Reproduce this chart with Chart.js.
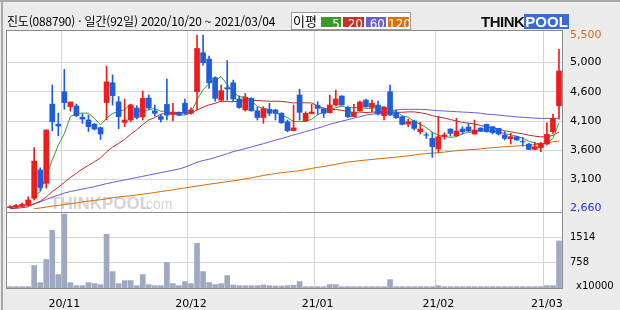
<!DOCTYPE html>
<html lang="ko">
<head>
<meta charset="UTF-8">
<title>진도 일간 차트</title>
<style>
  html, body { margin: 0; padding: 0; background: #ececec; }
  #wrap { position: relative; width: 620px; height: 310px; overflow: hidden; }
  #myChart { position: absolute; left: 0; top: 0; }
  #title {
    position: absolute; left: 7px; top: 12px;
    font: 12px "Noto Sans CJK KR", sans-serif; color: #000; white-space: nowrap;
    letter-spacing: -0.2px;
  }
  #maLegend {
    position: absolute; left: 291px; top: 12px; width: 118px; height: 16px;
    background: #fff; border: 1px solid #9a9a9a;
    font: 13px "Noto Sans CJK KR", sans-serif;
  }
  #maLegend .lbl { position: absolute; left: 1px; top: -2px; }
  #maLegend .box {
    position: absolute; top: 4px; height: 10px; line-height: 10px;
    color: #fff; text-align: right; font: 12px "DejaVu Sans", sans-serif; padding-right: 1px;
    box-sizing: border-box;
  }
  #logo { position: absolute; left: 481px; top: 13px; height: 16px; white-space: nowrap; }
  #logo .think { font: bold 15px "Liberation Sans", sans-serif; color: #111; letter-spacing: -0.5px; }
  #logo .pool {
    display: inline-block; background: #3a6ad6; color: #fff;
    font: bold 15px "Liberation Sans", sans-serif; padding: 0 1px; line-height: 15px;
  }
</style>
</head>
<body>
<div id="wrap">
  <canvas id="myChart" width="620" height="310"></canvas>
  <div id="title">진도(088790) · 일간(92일) 2020/10/20 ~ 2021/03/04</div>
  <div id="maLegend">
    <span class="lbl">이평</span>
    <span class="box" style="left:29px;width:20px;background:#3c9a2a">5</span>
    <span class="box" style="left:51px;width:21px;background:#c8302a">20</span>
    <span class="box" style="left:74px;width:20px;background:#6a5ed8">60</span>
    <span class="box" style="left:96px;width:21px;background:#dc7000">120</span>
  </div>
  <div id="logo"><span class="think">THINK</span><span class="pool">POOL</span></div>
</div>
<script src="https://cdn.jsdelivr.net/npm/chart.js@4.4.0/dist/chart.umd.min.js"></script>
<script>
// trading days 2020/10/20 ~ 2021/03/04 (92)
const days = [
  '2020/10/20','2020/10/21','2020/10/22','2020/10/23','2020/10/26','2020/10/27','2020/10/28','2020/10/29','2020/10/30',
  '2020/11/02','2020/11/03','2020/11/04','2020/11/05','2020/11/06','2020/11/09','2020/11/10','2020/11/11','2020/11/12','2020/11/13',
  '2020/11/16','2020/11/17','2020/11/18','2020/11/19','2020/11/20','2020/11/23','2020/11/24','2020/11/25','2020/11/26','2020/11/27','2020/11/30',
  '2020/12/01','2020/12/02','2020/12/03','2020/12/04','2020/12/07','2020/12/08','2020/12/09','2020/12/10','2020/12/11',
  '2020/12/14','2020/12/15','2020/12/16','2020/12/17','2020/12/18','2020/12/21','2020/12/22','2020/12/23','2020/12/24',
  '2020/12/28','2020/12/29','2020/12/30',
  '2021/01/04','2021/01/05','2021/01/06','2021/01/07','2021/01/08','2021/01/11','2021/01/12','2021/01/13','2021/01/14','2021/01/15',
  '2021/01/18','2021/01/19','2021/01/20','2021/01/21','2021/01/22','2021/01/25','2021/01/26','2021/01/27','2021/01/28','2021/01/29',
  '2021/02/01','2021/02/02','2021/02/03','2021/02/04','2021/02/05','2021/02/08','2021/02/09','2021/02/10',
  '2021/02/15','2021/02/16','2021/02/17','2021/02/18','2021/02/19','2021/02/22','2021/02/23','2021/02/24','2021/02/25','2021/02/26',
  '2021/03/02','2021/03/03','2021/03/04'
];

const opens = [
  2665,2670,2690,2710,2820,3285,3065,4365,4035,4570,
  4325,4335,4150,4105,4035,3980,4390,4715,4405,4065,
  4105,4300,4155,4465,4255,4160,4360,4195,4225,4380,
  4215,4570,5210,5105,4800,4430,4635,4715,4450,4270,
  4460,4255,4145,4280,4270,4215,4075,3930,4515,4090,
  4210,4345,4290,4225,4350,4498,4312,4160,4257,4432,
  4312,4350,4175,4569,4225,4159,4038,4088,3913,3862,
  3803,3628,3830,3956,3847,3956,3989,3874,3973,4033,
  3995,3967,3858,3798,3830,3752,3710,3622,3650,3710,
  3913,4339
];
const highs = [
  2700,2720,2745,2845,3650,3320,3945,4680,4215,4935,
  4400,4365,4205,4185,4050,3990,4990,4845,4490,4450,
  4360,4340,4580,4515,4350,4195,4775,4380,4240,4450,
  4305,5500,5500,5155,4815,4680,5080,4760,4500,4540,
  4470,4312,4325,4380,4280,4225,4105,4350,4610,4240,
  4361,4405,4305,4515,4595,4505,4334,4361,4415,4449,
  4432,4416,4320,4679,4268,4165,4120,4104,4066,3896,
  3900,4159,3896,3960,4131,3995,4049,4104,3978,4040,
  4000,3970,3913,3885,3840,3819,3720,3737,3737,4060,
  4203,5264
];
const lows = [
  2660,2665,2680,2700,2790,2945,2985,3925,3845,4280,
  4250,4160,4050,3915,3940,3785,4105,4350,3960,3995,
  4075,4120,4105,4280,4170,4075,4105,4090,4175,4195,
  4200,4270,5005,4625,4415,4405,4430,4405,4295,4250,
  4250,4105,4050,4175,4105,4050,3910,3925,4105,4077,
  4205,4195,4145,4215,4335,4345,4142,4160,4250,4312,
  4241,4186,4104,4180,4132,4022,3995,3940,3874,3803,
  3491,3573,3787,3841,3830,3869,3913,3874,3913,3902,
  3874,3858,3776,3710,3770,3677,3617,3617,3584,3694,
  3885,4120
];
const closes = [
  2680,2700,2720,2790,3430,2995,3940,4075,4005,4390,
  4400,4175,4120,3995,3955,3875,4730,4505,4160,4105,
  4350,4145,4460,4300,4215,4115,4185,4235,4185,4215,
  4270,5280,5045,4715,4460,4585,4615,4450,4310,4475,
  4255,4145,4290,4215,4215,4060,3930,3975,4230,4215,
  4235,4295,4215,4350,4450,4350,4160,4230,4400,4323,
  4378,4203,4312,4186,4142,4033,4077,3967,3956,3855,
  3666,3830,3858,3885,3923,3913,3923,3940,3923,3913,
  3896,3874,3803,3830,3776,3745,3622,3666,3721,3869,
  4131,4909
];

// moving averages as drawn (5, 20, 60, 120)
const ma5 = [
  null,null,null,null,2864,2927,3175,3446,3689,3881,
  4162,4209,4218,4216,4129,4024,4135,4212,4245,4275,
  4370,4253,4244,4272,4294,4247,4255,4210,4187,4187,
  4218,4437,4599,4705,4754,4817,4684,4565,4484,4487,
  4421,4327,4295,4276,4224,4185,4142,4079,4082,4082,
  4117,4190,4238,4262,4309,4332,4305,4308,4318,4293,
  4298,4307,4323,4280,4244,4175,4150,4081,4035,3978,
  3904,3855,3833,3819,3832,3882,3900,3917,3924,3922,
  3919,3909,3882,3863,3836,3806,3755,3728,3706,3725,
  3802,4059
];
const ma20 = [
  2650,2655,2665,2680,2730,2770,2840,2930,3000,3080,
  3160,3230,3300,3360,3420,3480,3580,3660,3720,3787,
  3871,3943,4030,4106,4145,4201,4213,4221,4230,4221,
  4215,4270,4316,4352,4378,4413,4407,4405,4412,4431,
  4426,4426,4417,4413,4413,4410,4398,4385,4387,4387,
  4385,4336,4294,4276,4276,4264,4241,4230,4235,4227,
  4233,4236,4237,4236,4232,4231,4238,4238,4224,4206,
  4177,4154,4136,4113,4087,4065,4053,4039,4015,3994,
  3970,3954,3928,3910,3892,3878,3855,3840,3828,3829,
  3852,3906
];
const ma60 = [
  2680,2685,2690,2700,2720,2760,2800,2840,2870,2905,
  2930,2950,2970,2990,3010,3035,3060,3080,3100,3120,
  3140,3160,3180,3200,3220,3240,3260,3280,3300,3330,
  3370,3410,3440,3460,3490,3520,3550,3585,3610,3635,
  3660,3690,3715,3745,3775,3800,3830,3860,3885,3915,
  3940,3970,4000,4035,4060,4085,4110,4135,4160,4185,
  4200,4215,4225,4240,4270,4280,4280,4280,4280,4275,
  4265,4258,4252,4246,4241,4235,4230,4225,4215,4200,
  4195,4185,4175,4165,4155,4148,4142,4136,4131,4131,
  4131,4135
];
const ma120 = [
  null,null,null,null,2648,2660,2675,2690,2703,2715,
  2728,2742,2760,2772,2785,2795,2810,2828,2840,2852,
  2860,2873,2887,2900,2915,2930,2944,2958,2975,2990,
  3005,3020,3035,3050,3064,3078,3092,3105,3118,3140,
  3155,3175,3195,3210,3225,3240,3250,3260,3272,3290,
  3310,3327,3340,3360,3375,3395,3415,3425,3437,3447,
  3457,3467,3475,3485,3495,3505,3517,3530,3543,3552,
  3560,3568,3578,3590,3600,3608,3616,3622,3630,3642,
  3650,3658,3665,3672,3678,3683,3690,3700,3710,3725,
  3748,3760
];

// volume, x10000 shares
const volumes = [
  40,40,40,40,676,161,858,1735,404,2220,
  161,71,71,161,131,101,1614,494,131,222,
  222,71,404,101,71,71,767,131,71,192,
  131,1342,494,161,101,131,373,90,70,70,
  70,70,90,70,60,60,70,80,192,40,
  40,40,40,101,101,40,40,40,40,40,
  40,40,40,252,40,40,40,40,40,40,
  40,71,40,40,40,40,40,40,40,40,
  40,40,40,40,40,40,40,40,40,71,
  71,1413
];

const priceTicks = [5500, 5048, 4568, 4088, 3608, 3128, 2660];
const priceTickLabels = ['5,500', '5,000', '4,600', '4,100', '3,600', '3,100', '2,660'];
const volTicks = [1514, 758];
const volTickLabels = ['1514', '758'];
const volUnit = 'x10000';

const UP = '#f01c1c';
const DOWN = '#1f5ddc';
const candleColors = closes.map((c, i) => c >= opens[i] ? UP : DOWN);

// "YY/MM" at the first trading day of each month
const monthLabels = days.map((d, i) => {
  if (i === 0 || d.slice(5, 7) === days[i - 1].slice(5, 7)) return '';
  return d.slice(2, 4) + '/' + d.slice(5, 7);
});

const axisFont = { family: 'DejaVu Sans', size: 11 };

const panelPlugin = {
  id: 'panel',
  beforeDraw(chart) {
    const { ctx, chartArea: a } = chart;
    ctx.save();
    ctx.fillStyle = '#ececec';
    ctx.fillRect(0, 0, chart.width, chart.height);
    ctx.fillStyle = '#ffffff';
    ctx.fillRect(a.left, a.top, a.right - a.left, a.bottom - a.top);
    ctx.restore();
  },
  beforeDatasetsDraw(chart) {
    const { ctx, chartArea: a } = chart;
    ctx.save();
    ctx.fillStyle = 'rgba(175,175,175,0.55)';
    ctx.font = 'bold 17px "Liberation Sans"';
    ctx.fillText('THINKPOOL', a.left + 43, 209);
    ctx.font = '14px "Liberation Sans"';
    ctx.fillText('.com', a.left + 135, 209);
    ctx.restore();
  },
  afterDraw(chart) {
    const { ctx, chartArea: a } = chart;
    const yPrice = chart.scales.y;
    const yVol = chart.scales.yv;
    ctx.save();
    // outer frame (top / left)
    ctx.fillStyle = '#a8a8a8';
    ctx.fillRect(0, 0, chart.width, 2);
    ctx.fillRect(1, 0, 2, chart.height);
    // plot frame
    ctx.strokeStyle = '#8c8c8c';
    ctx.lineWidth = 1;
    ctx.strokeRect(Math.round(a.left) - 0.5, Math.round(a.top) - 0.5,
      Math.round(a.right - a.left) + 1, Math.round(a.bottom - a.top) + 1);
    // panel separator
    ctx.beginPath();
    ctx.moveTo(a.left, Math.round(yPrice.bottom) + 0.5);
    ctx.lineTo(a.right, Math.round(yPrice.bottom) + 0.5);
    ctx.stroke();
    // volume unit
    ctx.fillStyle = '#000';
    ctx.font = '10px "DejaVu Sans"';
    ctx.textBaseline = 'middle';
    ctx.fillText(volUnit, a.right + 14, yVol.getPixelForValue(0) - 2);
    ctx.restore();
  }
};

new Chart(document.getElementById('myChart'), {
  type: 'bar',
  data: {
    labels: days,
    datasets: [
      {
        type: 'bar', label: 'body', yAxisID: 'y', order: 1, grouped: false,
        data: opens.map((o, i) => [o, closes[i]]),
        backgroundColor: candleColors, barThickness: 5
      },
      {
        type: 'bar', label: 'wick', yAxisID: 'y', order: 2, grouped: false,
        data: lows.map((l, i) => [l, highs[i]]),
        backgroundColor: candleColors, barThickness: 1
      },
      { type: 'line', label: '5', yAxisID: 'y', order: 3, data: ma5, borderColor: '#3c9a2a', borderWidth: 1, pointRadius: 0 },
      { type: 'line', label: '20', yAxisID: 'y', order: 3, data: ma20, borderColor: '#c0282a', borderWidth: 1, pointRadius: 0 },
      { type: 'line', label: '60', yAxisID: 'y', order: 3, data: ma60, borderColor: '#6a5ad8', borderWidth: 1, pointRadius: 0 },
      { type: 'line', label: '120', yAxisID: 'y', order: 3, data: ma120, borderColor: '#d86c00', borderWidth: 1, pointRadius: 0 },
      {
        type: 'bar', label: 'volume', yAxisID: 'yv', order: 4, grouped: false,
        data: volumes, backgroundColor: '#a0a9c2', barThickness: 5
      }
    ]
  },
  options: {
    responsive: false,
    devicePixelRatio: 1,
    animation: false,
    layout: { padding: { left: 7, top: 31, right: 0, bottom: 0 } },
    plugins: { legend: { display: false }, tooltip: { enabled: false }, title: { display: false } },
    scales: {
      x: {
        type: 'category',
        offset: true,
        grid: {
          offset: true, drawTicks: false,
          color: c => (monthLabels[c.index] ? '#d4d4d4' : 'rgba(0,0,0,0)')
        },
        border: { display: false },
        ticks: {
          autoSkip: false, maxRotation: 0, padding: 10, color: '#000', font: axisFont,
          callback: (v, i) => monthLabels[i]
        },
        afterFit: s => { s.height = 22; }
      },
      y: {
        type: 'linear', position: 'right', stack: 'main', stackWeight: 181,
        min: 2594, max: 5566,
        afterBuildTicks: s => { s.ticks = priceTicks.map(v => ({ value: v })); },
        afterFit: s => { s.width = 58; },
        grid: {
          drawTicks: false,
          color: c => (c.index === 0 || c.index === priceTicks.length - 1) ? 'rgba(0,0,0,0)' : '#d6d6d6'
        },
        border: { display: false },
        ticks: {
          padding: 8, font: axisFont, autoSkip: false,
          color: c => c.index === 0 ? '#c8701e' : (c.index === priceTicks.length - 1 ? '#1a34d0' : '#000'),
          callback: (v, i) => priceTickLabels[i]
        }
      },
      yv: {
        type: 'linear', position: 'right', stack: 'main', stackWeight: 76,
        min: 0, max: 2283,
        afterBuildTicks: s => { s.ticks = volTicks.map(v => ({ value: v })); },
        afterFit: s => { s.width = 58; },
        grid: { drawTicks: false, color: '#d6d6d6' },
        border: { display: false },
        ticks: {
          padding: 8, color: '#000', font: { family: 'DejaVu Sans', size: 10 }, autoSkip: false,
          callback: (v, i) => volTickLabels[i]
        }
      }
    }
  },
  plugins: [panelPlugin]
});
</script>
</body>
</html>
